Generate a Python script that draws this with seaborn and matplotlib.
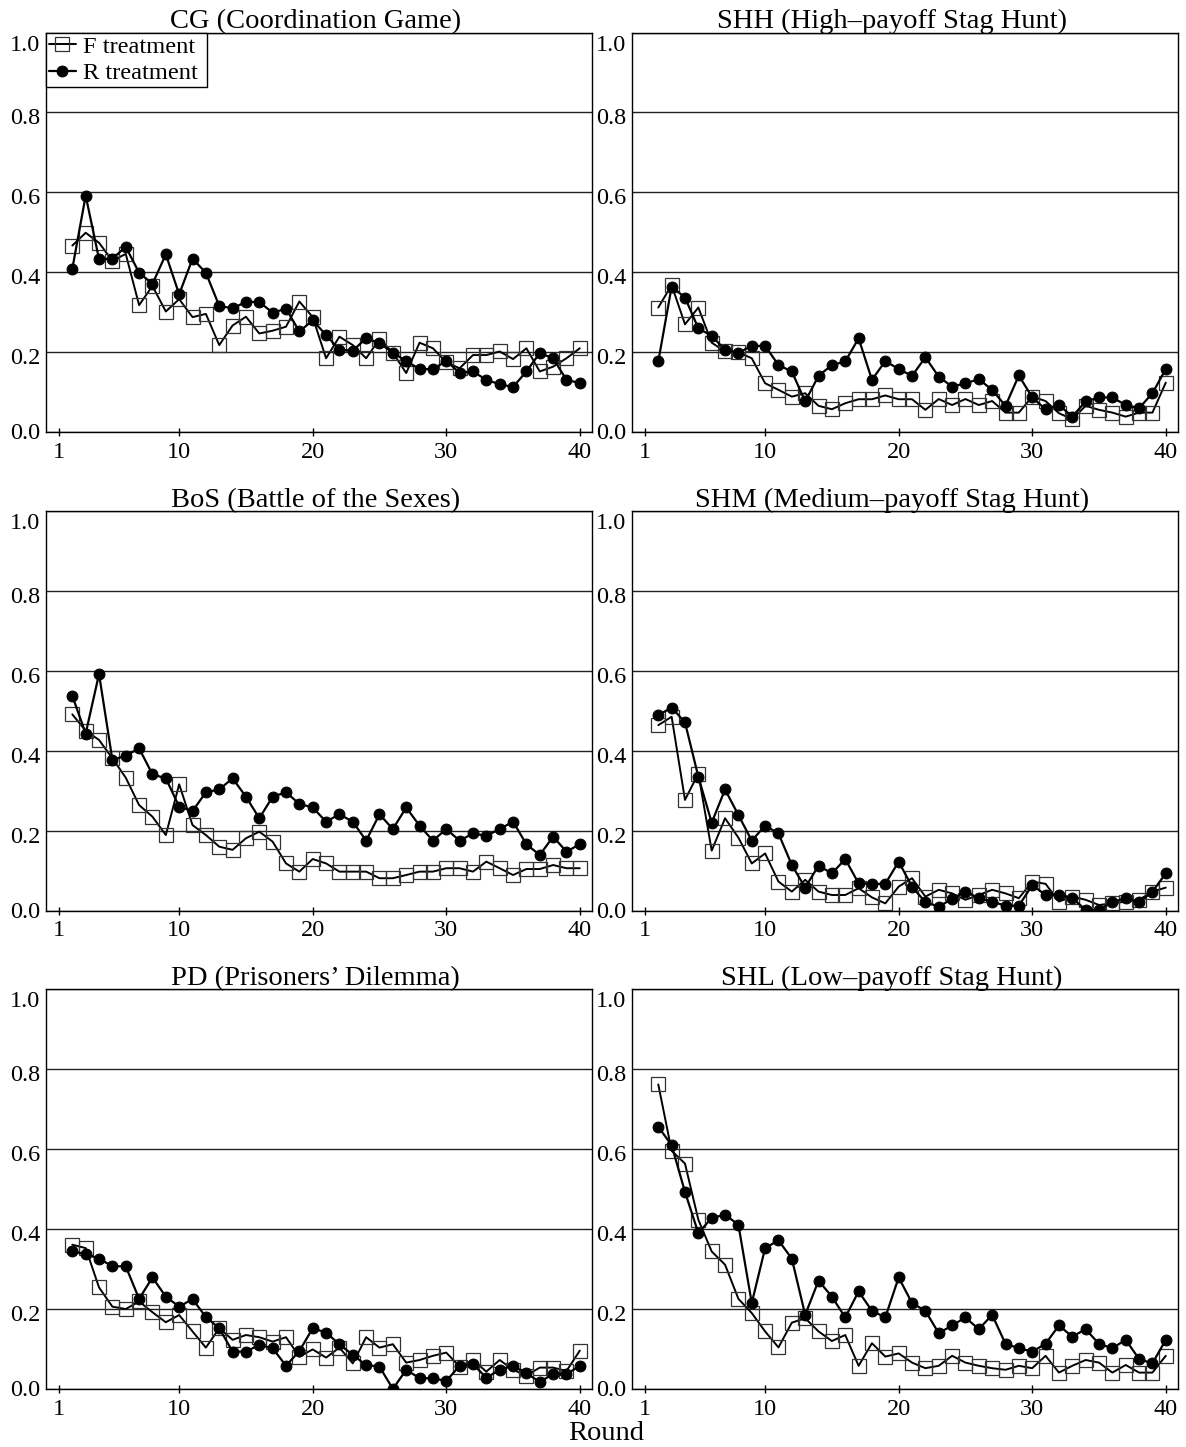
import matplotlib
matplotlib.use("Agg")
import matplotlib.pyplot as plt
import matplotlib.transforms as mtransforms
import numpy as np
import pandas as pd
import seaborn as sns

# ---------------- data ----------------
rounds = list(range(2, 41))

cg_f = [0.467, 0.499, 0.474, 0.429, 0.446, 0.318, 0.366, 0.302, 0.333, 0.288, 0.296, 0.218, 0.267, 0.289, 0.247,
        0.254, 0.264, 0.327, 0.288,
        0.185, 0.239, 0.218, 0.185, 0.233, 0.199, 0.148, 0.224, 0.210, 0.175, 0.160, 0.193, 0.193, 0.202, 0.183,
        0.210, 0.152, 0.164, 0.185, 0.210]
cg_r = [0.409, 0.592, 0.433, 0.434, 0.464, 0.399, 0.371, 0.445, 0.345, 0.434, 0.399, 0.316, 0.310, 0.326, 0.326,
        0.299, 0.309, 0.252, 0.280,
        0.243, 0.206, 0.204, 0.235, 0.223, 0.199, 0.178, 0.158, 0.158, 0.178, 0.149, 0.152, 0.131, 0.120, 0.113,
        0.152, 0.198, 0.185, 0.131, 0.123]

shh_f = [0.312, 0.368, 0.270, 0.312, 0.224, 0.202, 0.200, 0.185, 0.1225, 0.106, 0.089, 0.0975, 0.066, 0.0575, 0.0725,
         0.0825, 0.0825, 0.092, 0.0825,
         0.0825, 0.056, 0.083, 0.068, 0.083, 0.068, 0.078, 0.049, 0.049, 0.089, 0.078, 0.0475, 0.0325, 0.066, 0.056,
         0.049, 0.039, 0.049, 0.049, 0.124]
shh_r = [0.177, 0.364, 0.337, 0.260, 0.241, 0.206, 0.199, 0.216, 0.216, 0.168, 0.152, 0.077, 0.141, 0.168, 0.177,
         0.235, 0.131, 0.178, 0.158,
         0.141, 0.1875, 0.139, 0.114, 0.1225, 0.1325, 0.106, 0.066, 0.142, 0.087, 0.0575, 0.068, 0.039, 0.077, 0.087,
         0.087, 0.068, 0.060, 0.0975, 0.158]

bos_f = [0.491, 0.450, 0.427, 0.381, 0.3325, 0.264, 0.235, 0.189, 0.316, 0.214, 0.189, 0.160, 0.152, 0.181, 0.1975,
         0.1725, 0.118, 0.0975, 0.129,
         0.118, 0.0975, 0.0975, 0.0975, 0.081, 0.081, 0.089, 0.0975, 0.0975, 0.106, 0.106, 0.0975, 0.1225, 0.106,
         0.089, 0.104, 0.104, 0.114, 0.106, 0.106]
bos_r = [0.537, 0.443, 0.592, 0.377, 0.3875, 0.406, 0.341, 0.331, 0.260, 0.249, 0.296, 0.303, 0.331, 0.285, 0.231,
         0.285, 0.296, 0.267, 0.258,
         0.2225, 0.241, 0.2225, 0.175, 0.241, 0.204, 0.258, 0.2125, 0.175, 0.204, 0.175, 0.193, 0.187, 0.204, 0.2225,
         0.166, 0.139, 0.185, 0.1475, 0.166]

shm_f = [0.464, 0.485, 0.277, 0.343, 0.150, 0.231, 0.1825, 0.118, 0.143, 0.0725, 0.0475, 0.077, 0.0475, 0.039, 0.039,
         0.056, 0.033, 0.018, 0.060,
         0.081, 0.035, 0.052, 0.043, 0.027, 0.039, 0.052, 0.043, 0.031, 0.0725, 0.067, 0.0225, 0.035, 0.027, 0.014,
         0.018, 0.0225, 0.027, 0.0475, 0.0575]
shm_r = [0.489, 0.508, 0.471, 0.335, 0.220, 0.303, 0.239, 0.175, 0.2125, 0.193, 0.114, 0.0575, 0.1125, 0.093, 0.129,
         0.068, 0.067, 0.067, 0.1225,
         0.060, 0.021, 0.010, 0.029, 0.0475, 0.031, 0.0225, 0.012, 0.012, 0.064, 0.039, 0.039, 0.031, 0.002, 0.002,
         0.021, 0.031, 0.021, 0.0475, 0.093]

pd_f = [0.361, 0.3525, 0.254, 0.206, 0.200, 0.219, 0.192, 0.167, 0.185, 0.144, 0.1035, 0.152, 0.123, 0.135, 0.1295,
        0.1185, 0.1295, 0.081, 0.099,
        0.0785, 0.1035, 0.064, 0.1295, 0.1035, 0.112, 0.066, 0.0725, 0.083, 0.091, 0.056, 0.0725, 0.0435, 0.0725,
        0.048, 0.0335, 0.0535, 0.0535, 0.045, 0.096]
pd_r = [0.344, 0.3375, 0.326, 0.307, 0.307, 0.2255, 0.279, 0.231, 0.206, 0.225, 0.180, 0.152, 0.0935, 0.0935, 0.110,
        0.102, 0.058, 0.095, 0.152,
        0.141, 0.112, 0.085, 0.060, 0.056, 0.000, 0.048, 0.027, 0.027, 0.020, 0.058, 0.062, 0.028, 0.048, 0.058,
        0.039, 0.018, 0.037, 0.037, 0.058]

shl_f = [0.762, 0.596, 0.564, 0.4235, 0.344, 0.311, 0.2255, 0.190, 0.144, 0.104, 0.166, 0.177, 0.144, 0.120, 0.135,
         0.058, 0.1145, 0.081, 0.089,
         0.066, 0.052, 0.058, 0.083, 0.066, 0.058, 0.052, 0.048, 0.058, 0.052, 0.083, 0.041, 0.058, 0.0725, 0.066,
         0.041, 0.060, 0.041, 0.041, 0.083]
shl_r = [0.656, 0.610, 0.493, 0.390, 0.428, 0.436, 0.411, 0.215, 0.3525, 0.372, 0.326, 0.1855, 0.271, 0.231, 0.179,
         0.244, 0.1955, 0.179, 0.279,
         0.215, 0.1955, 0.1395, 0.159, 0.179, 0.1495, 0.1855, 0.113, 0.102, 0.0935, 0.113, 0.159, 0.131, 0.1495,
         0.113, 0.102, 0.123, 0.075, 0.064, 0.123]

titles = ["CG (Coordination Game)", "SHH (High\u2013payoff Stag Hunt)",
          "BoS (Battle of the Sexes)", "SHM (Medium\u2013payoff Stag Hunt)",
          "PD (Prisoners\u2019 Dilemma)", "SHL (Low\u2013payoff Stag Hunt)"]
f_series = [cg_f, shh_f, bos_f, shm_f, pd_f, shl_f]
r_series = [cg_r, shh_r, bos_r, shm_r, pd_r, shl_r]
legend_labels = ["F treatment", "R treatment"]
x_ticks = [1, 10, 20, 30, 40]
y_ticks = [0.0, 0.2, 0.4, 0.6, 0.8, 1.0]
x_label = "Round"

# ---------------- style ----------------
sns.set_theme(style="white")
plt.rcParams["font.family"] = ["Liberation Serif", "DejaVu Serif"]
plt.rcParams["axes.edgecolor"] = "black"
plt.rcParams["text.color"] = "black"
plt.rcParams["xtick.color"] = "black"
plt.rcParams["ytick.color"] = "black"

fig, axes = plt.subplots(3, 2, figsize=(11.86, 14.47), dpi=100)
fig.subplots_adjust(left=0.0388, right=0.9933, bottom=0.0401, top=0.9775,
                    wspace=0.073, hspace=0.197)

for i, ax in enumerate(axes.flat):
    df = pd.DataFrame({"Round": rounds, "F": f_series[i], "R": r_series[i]})
    sns.lineplot(data=df, x="Round", y="F", ax=ax, color="black", linewidth=1.4,
                 marker="s", markersize=9.4, markerfacecolor="none",
                 markeredgecolor="#333333", markeredgewidth=0.9, label=legend_labels[0])
    sns.lineplot(data=df, x="Round", y="R", ax=ax, color="black", linewidth=1.6,
                 marker="o", markersize=7.8, markerfacecolor="black",
                 markeredgecolor="black", label=legend_labels[1])
    ax.set_xlim(0.03, 40.92)
    ax.set_ylim(0, 1.0)
    ax.set_xticks(x_ticks)
    ax.set_xticklabels([str(t) for t in x_ticks])
    ax.set_yticks(y_ticks)
    ax.set_yticklabels([f"{t:.1f}" for t in y_ticks])
    ax.set_xlabel("")
    ax.set_ylabel("")
    ax.grid(axis="y", color="#222222", linewidth=1.0)
    ax.grid(axis="x", visible=False)
    ax.set_axisbelow(True)
    for s in ax.spines.values():
        s.set_visible(True)
        s.set_color("black")
        s.set_linewidth(1.0)
    ax.tick_params(axis="x", bottom=True, direction="inout", length=6, width=1,
                   labelsize=17.5, pad=4)
    ax.tick_params(axis="y", left=True, length=0, labelsize=17.5, pad=4)
    # small downward shift of y tick labels as in the reference
    for lbl, val in zip(ax.get_yticklabels(), y_ticks):
        dy = {0.0: 1, 1.0: -10}.get(val, -4)
        lbl.set_transform(lbl.get_transform() +
                          mtransforms.ScaledTranslation(0, dy / 100, fig.dpi_scale_trans))
    tx = 0.494 if i % 2 == 0 else 0.476
    ax.set_title(titles[i], fontsize=20.5, pad=3, x=tx)
    if i == 0:
        leg = ax.legend(loc="upper left", bbox_to_anchor=(0, 0, 161 / 545, 1), mode="expand",
                        borderaxespad=0, frameon=True, fancybox=False,
                        edgecolor="black", framealpha=1, fontsize=17.6,
                        handlelength=1.1, handletextpad=0.3, borderpad=0.12,
                        labelspacing=0.18)
        leg.get_frame().set_linewidth(1.0)
    else:
        lg = ax.get_legend()
        if lg is not None:
            lg.remove()

fig.text(606 / 1186, 1 - 1433 / 1447, x_label, ha="center", va="center", fontsize=20.5)

fig.savefig("out.png", dpi=100)
